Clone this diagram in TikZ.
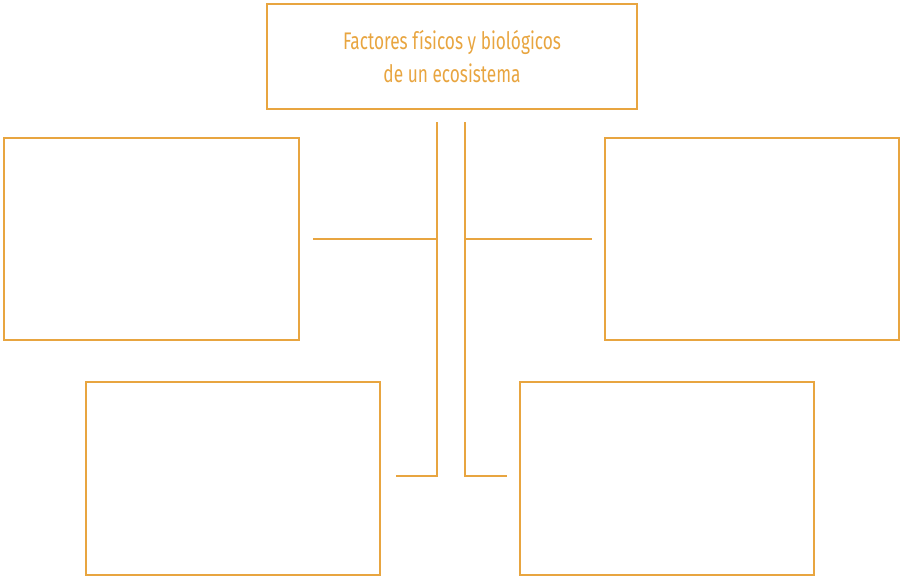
\documentclass[tikz,border=0pt]{standalone}
\usepackage{fontspec}
\setmainfont[FakeStretch=0.72]{Fira Sans}
\definecolor{org}{HTML}{E8A540}
\tikzset{
  box/.style={draw=org, line width=2pt, inner sep=0pt},
  conn/.style={draw=org, line width=2pt},
}
\begin{document}
\begin{tikzpicture}[x=1pt,y=-1pt]
\useasboundingbox (0,0) rectangle (900,576);
\node[box, minimum width=370pt, minimum height=105pt, align=center, text=org,
  font=\fontsize{24}{33}\selectfont] (title) at (452,56.5)
  {Factores físicos y biológicos\\de un ecosistema};
\node[box, minimum width=295pt, minimum height=202pt] (lt) at (151.5,239) {};
\node[box, minimum width=294pt, minimum height=202pt] (rt) at (752,239) {};
\node[box, minimum width=294pt, minimum height=193pt] (lb) at (233,478.5) {};
\node[box, minimum width=294pt, minimum height=193pt] (rb) at (667,478.5) {};
\coordinate (vlt) at (437,122);
\coordinate (vrt) at (465,122);
\coordinate (vlm) at (437,239);
\coordinate (vrm) at (465,239);
\coordinate (vlb) at (437,476);
\coordinate (vrb) at (465,476);
\coordinate (hl) at (313,239);
\coordinate (hr) at (592,239);
\coordinate (bl) at (396,476);
\coordinate (br) at (507,476);
\draw[conn] (vlt) -- (vlb) -- (bl);
\draw[conn] (vrt) -- (vrb) -- (br);
\draw[conn] (hl) -- (vlm);
\draw[conn] (vrm) -- (hr);
\end{tikzpicture}
\end{document}
